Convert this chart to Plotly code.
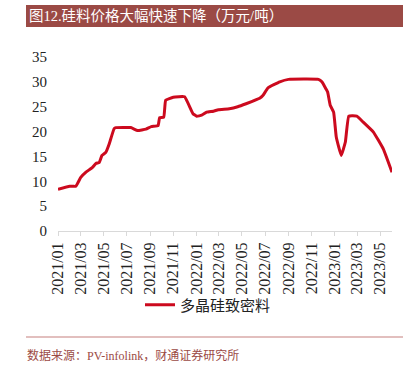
import plotly.graph_objects as go

dates = ["2021-01-01","2021-02-01","2021-02-17","2021-03-02","2021-03-15","2021-04-02","2021-04-11",
         "2021-04-20","2021-04-27","2021-05-07","2021-05-16","2021-05-29","2021-06-03","2021-07-12",
         "2021-07-30","2021-08-21","2021-09-04","2021-09-22","2021-09-26","2021-10-07","2021-10-12",
         "2021-11-01","2021-12-01","2021-12-23","2022-01-02","2022-01-15","2022-01-28","2022-02-15",
         "2022-02-28","2022-03-29","2022-04-20","2022-05-12","2022-06-17","2022-06-26","2022-07-09",
         "2022-08-09","2022-09-01","2022-11-19","2022-11-28","2022-12-13","2022-12-20","2022-12-29",
         "2023-01-05","2023-01-18","2023-01-29","2023-02-07","2023-02-28","2023-03-17","2023-04-13",
         "2023-05-09","2023-06-01"]
prices = [8.4,9.0,9.0,10.8,11.8,12.8,13.6,
          13.8,15.2,15.8,17.5,20.6,20.8,20.8,
          20.2,20.5,21.0,21.2,22.8,22.9,26.3,
          26.9,27.0,23.6,23.1,23.3,23.9,24.1,
          24.4,24.6,25.0,25.6,26.7,27.3,28.8,
          30.0,30.5,30.5,30.0,28.0,25.3,23.9,
          18.9,15.2,17.9,23.1,23.1,21.9,19.9,
          16.5,11.8]
series_name = "多晶硅致密料"
title_text = "图12.硅料价格大幅快速下降（万元/吨）"
source_text = "数据来源：PV-infolink，财通证券研究所"
y_ticks = [0, 5, 10, 15, 20, 25, 30, 35]

serif = "Liberation Serif, Noto Sans CJK SC"

fig = go.Figure()
fig.add_trace(go.Scatter(x=dates, y=prices, mode="lines", name=series_name,
                         line=dict(color="#CC0A1E", width=3, shape="spline", smoothing=0.3)))

L, R, T, B = 58, 28, 57, 139
W, H = 420, 370
pw = W - L - R
ph = H - T - B
def px(x):
    return (x - L) / pw
def py(y):
    return (H - B - y) / ph

fig.update_layout(
    width=W, height=H,
    margin=dict(l=L, r=R, t=T, b=B, autoexpand=False),
    paper_bgcolor="white", plot_bgcolor="white",
    showlegend=True,
    legend=dict(orientation="h", x=px(140), y=py(305), xanchor="left", yanchor="middle",
                font=dict(family=serif, size=15, color="#222"), itemwidth=30,
                bgcolor="rgba(0,0,0,0)"),
    xaxis=dict(type="date", range=["2021-01-01", "2023-06-01"], tickformat="%Y/%m",
               dtick="M2", tick0="2021-01-01", tickangle=-90, showgrid=False,
               showline=True, linecolor="#D9D9D9", linewidth=1, ticks="outside",
               ticklen=4, tickcolor="#D9D9D9",
               tickfont=dict(family=serif, size=16, color="#222")),
    yaxis=dict(range=[0, 35], tickvals=y_ticks, showgrid=False, zeroline=False,
               showline=False, tickfont=dict(family=serif, size=15, color="#222"),
               ticks="", ticklabelstandoff=10),
    shapes=[
        dict(type="rect", xref="paper", yref="paper", x0=px(26), x1=px(403), y0=py(27), y1=py(5),
             fillcolor="#9B4A45", line=dict(width=0), layer="below"),
        dict(type="line", xref="paper", yref="paper", x0=px(26), x1=px(403), y0=py(337), y1=py(337),
             line=dict(color="#D9AAA8", width=1.5)),
    ],
    annotations=[
        dict(text=title_text, xref="paper", yref="paper", x=px(27), y=py(16), xanchor="left",
             yanchor="middle", showarrow=False, font=dict(family=serif, size=14.5, color="white")),
        dict(text=source_text, xref="paper", yref="paper", x=px(25), y=py(355), xanchor="left",
             yanchor="middle", showarrow=False, font=dict(family=serif, size=12, color="#9B4A45")),
    ],
)

fig.write_html("out.html", config={"displayModeBar": False},
               post_script="document.body.style.margin='0';")
